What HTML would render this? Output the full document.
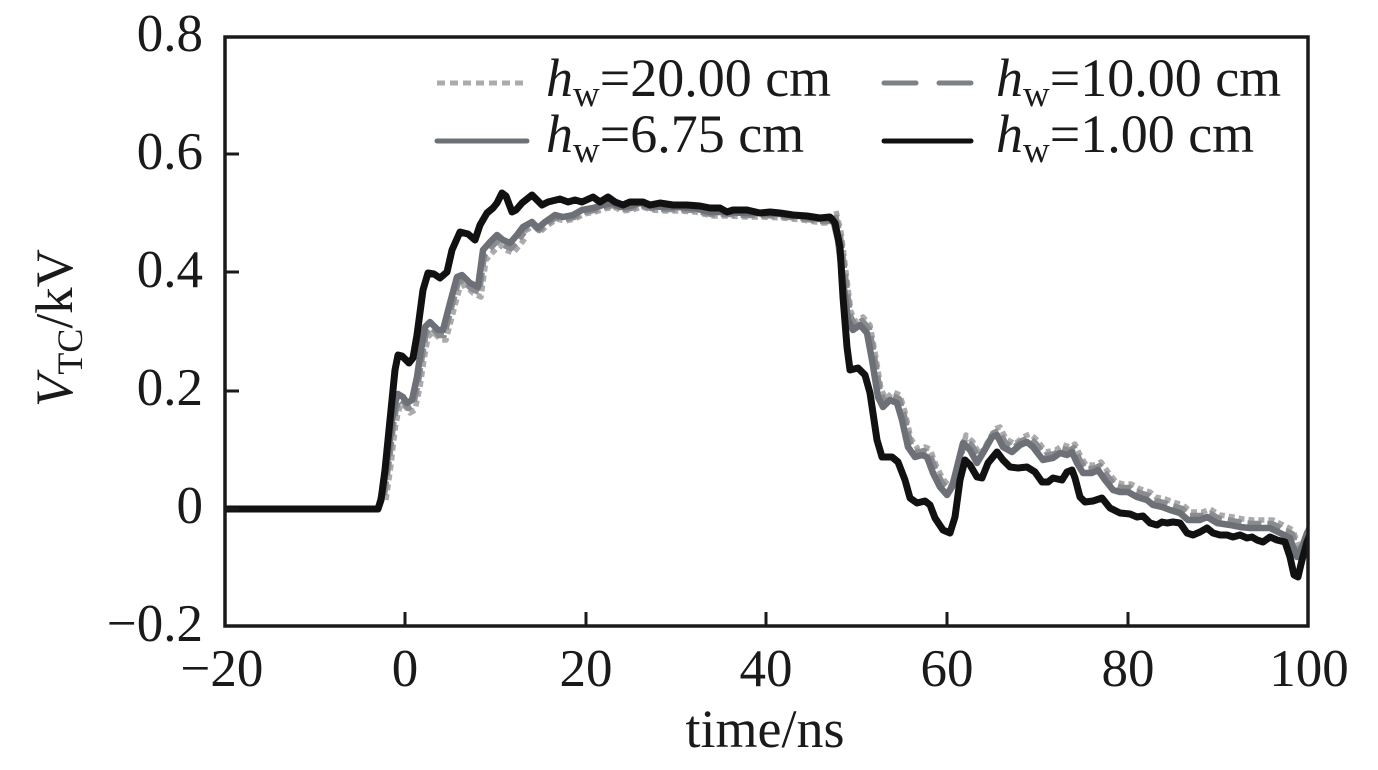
<!DOCTYPE html>
<html>
<head>
<meta charset="utf-8">
<style>
html,body{margin:0;padding:0;background:#fff;}
svg{display:block;}
text{font-family:"Liberation Serif","Times New Roman",serif;fill:#1a1a1a;}
</style>
</head>
<body>
<svg width="1378" height="770" viewBox="0 0 1378 770" xmlns="http://www.w3.org/2000/svg">
<defs>
<clipPath id="pa"><rect x="225" y="37" width="1083" height="589"/></clipPath>
</defs>
<rect x="0" y="0" width="1378" height="770" fill="#fff"/>

<g clip-path="url(#pa)" fill="none" stroke-linejoin="round">
<!-- dotted 20.00 cm -->
<g stroke="#ababab" stroke-width="5.5" stroke-dasharray="6 4">
<path transform="translate(3,10)" d="M383,490 L388,455 L392,420 L395,403 L398,394 L403,397 L407,403 L412,400 L417,377 L421,350 L425,327 L430,322 L438,330 L443,330 L450,303 L457,277 L462,275 L470,283 L478,287 L483,250 L490,242 L497,235 L503,240 L510,243 L517,235 L523,227"/>
<path transform="translate(2,4)" d="M517,235 L523,227 L532,222 L538,228 L545,222 L555,215 L563,217 L573,215 L582,210 L593,208 L603,205 L612,203 L620,207 L630,206 L640,203 L650,206 L663,207 L677,207 L693,208 L710,212 L727,212 L743,213 L760,213 L780,214 L800,216 L820,219 L833,219 L838,240"/>
<path transform="translate(3,-8)" d="M833,219 L838,240 L843,280 L848,320 L853,330 L860,325 L867,333 L872,360 L878,397 L883,407 L890,400 L897,403 L902,420 L908,447 L915,457 L922,455 L927,457 L933,473 L940,487 L947,495 L952,487 L958,463 L963,443 L970,450 L977,463 L983,453 L992,437 L997,435 L1003,447 L1012,452 L1020,445 L1027,442 L1033,447 L1043,460 L1053,458 L1060,453 L1067,455 L1072,452 L1077,463 L1083,473 L1092,473 L1098,470 L1105,480 L1113,490 L1120,492 L1128,492 L1137,497 L1147,500 L1153,505 L1162,507 L1170,510 L1180,513 L1188,520 L1200,520 L1207,517 L1217,523 L1230,525 L1240,527 L1250,528 L1260,528 L1270,528 L1280,533 L1290,538 L1294,550 L1297,557 L1301,550 L1307,533 L1312,525"/>
</g>
<!-- dashed 10.00 cm -->
<g stroke="#8a8c90" stroke-width="6.5" stroke-dasharray="14 6">
<path transform="translate(1,5)" d="M383,490 L388,455 L392,420 L395,403 L398,394 L403,397 L407,403 L412,400 L417,377 L421,350 L425,327 L430,322 L438,330 L443,330 L450,303 L457,277 L462,275 L470,283 L478,287 L483,250 L490,242 L497,235 L503,240 L510,243 L517,235 L523,227"/>
<path transform="translate(1,2)" d="M517,235 L523,227 L532,222 L538,228 L545,222 L555,215 L563,217 L573,215 L582,210 L593,208 L603,205 L612,203 L620,207 L630,206 L640,203 L650,206 L663,207 L677,207 L693,208 L710,212 L727,212 L743,213 L760,213 L780,214 L800,216 L820,219 L833,219 L838,240"/>
<path transform="translate(2,-4)" d="M833,219 L838,240 L843,280 L848,320 L853,330 L860,325 L867,333 L872,360 L878,397 L883,407 L890,400 L897,403 L902,420 L908,447 L915,457 L922,455 L927,457 L933,473 L940,487 L947,495 L952,487 L958,463 L963,443 L970,450 L977,463 L983,453 L992,437 L997,435 L1003,447 L1012,452 L1020,445 L1027,442 L1033,447 L1043,460 L1053,458 L1060,453 L1067,455 L1072,452 L1077,463 L1083,473 L1092,473 L1098,470 L1105,480 L1113,490 L1120,492 L1128,492 L1137,497 L1147,500 L1153,505 L1162,507 L1170,510 L1180,513 L1188,520 L1200,520 L1207,517 L1217,523 L1230,525 L1240,527 L1250,528 L1260,528 L1270,528 L1280,533 L1290,538 L1294,550 L1297,557 L1301,550 L1307,533 L1312,525"/>
</g>
<!-- solid gray 6.75 cm -->
<path stroke="#6d7077" stroke-width="6.5" d="M225,509 L378,509 L383,490 L388,455 L392,420 L395,403 L398,394 L403,397 L407,403 L412,400 L417,377 L421,350 L425,327 L430,322 L438,330 L443,330 L450,303 L457,277 L462,275 L470,283 L478,287 L483,250 L490,242 L497,235 L503,240 L510,243 L517,235 L523,227 L532,222 L538,228 L545,222 L555,215 L563,217 L573,215 L582,210 L593,208 L603,205 L612,203 L620,207 L630,206 L640,203 L650,206 L663,207 L677,207 L693,208 L710,212 L727,212 L743,213 L760,213 L780,214 L800,216 L820,219 L833,219 L838,240 L843,280 L848,320 L853,330 L860,325 L867,333 L872,360 L878,397 L883,407 L890,400 L897,403 L902,420 L908,447 L915,457 L922,455 L927,457 L933,473 L940,487 L947,495 L952,487 L958,463 L963,443 L970,450 L977,463 L983,453 L992,437 L997,435 L1003,447 L1012,452 L1020,445 L1027,442 L1033,447 L1043,460 L1053,458 L1060,453 L1067,455 L1072,452 L1077,463 L1083,473 L1092,473 L1098,470 L1105,480 L1113,490 L1120,492 L1128,492 L1137,497 L1147,500 L1153,505 L1162,507 L1170,510 L1180,513 L1188,520 L1200,520 L1207,517 L1217,523 L1230,525 L1240,527 L1250,528 L1260,528 L1270,528 L1280,533 L1290,538 L1294,550 L1297,557 L1301,550 L1307,533 L1312,525"/>
<!-- black 1.00 cm -->
<path stroke="#111" stroke-width="7" d="M225,509 L378,509 L381,500 L385,470 L390,420 L395,370 L398,355 L402,356 L409,363 L413,358 L417,335 L423,290 L428,273 L434,274 L440,278 L447,272 L452,250 L460,232 L468,234 L475,240 L480,225 L487,213 L493,208 L497,203 L502,193 L506,196 L512,212 L516,210 L522,203 L532,195 L537,200 L542,205 L548,202 L560,199 L568,202 L575,200 L582,202 L593,197 L600,202 L608,197 L615,202 L623,205 L630,202 L643,202 L650,205 L660,203 L673,205 L687,205 L700,206 L710,208 L720,208 L727,212 L733,210 L747,210 L760,213 L770,212 L780,213 L793,215 L807,216 L820,218 L830,217 L835,223 L840,247 L843,297 L847,347 L850,370 L858,368 L865,375 L870,393 L877,440 L882,457 L892,457 L898,462 L905,480 L910,498 L917,503 L925,501 L930,505 L935,518 L943,530 L950,533 L955,517 L960,480 L965,460 L970,465 L977,477 L982,478 L988,463 L997,452 L1003,460 L1010,467 L1018,468 L1027,467 L1035,472 L1042,482 L1048,482 L1053,478 L1062,480 L1067,472 L1072,470 L1075,478 L1080,497 L1085,502 L1093,501 L1102,498 L1110,508 L1120,513 L1130,514 L1137,517 L1143,516 L1150,523 L1157,525 L1162,522 L1167,523 L1173,522 L1180,523 L1187,533 L1193,535 L1200,532 L1207,528 L1213,533 L1220,535 L1227,535 L1233,537 L1240,535 L1247,538 L1252,537 L1257,540 L1263,542 L1270,537 L1277,540 L1285,542 L1290,557 L1294,575 L1298,577 L1302,560 L1307,542 L1312,530"/>
</g>

<!-- axes frame -->
<rect x="225" y="37" width="1083" height="589" fill="none" stroke="#1a1a1a" stroke-width="3.5"/>
<!-- ticks -->
<g stroke="#1a1a1a" stroke-width="3">
<line x1="405" y1="626" x2="405" y2="612"/>
<line x1="586" y1="626" x2="586" y2="612"/>
<line x1="766" y1="626" x2="766" y2="612"/>
<line x1="947" y1="626" x2="947" y2="612"/>
<line x1="1128" y1="626" x2="1128" y2="612"/>
<line x1="225" y1="154" x2="239" y2="154"/>
<line x1="225" y1="272" x2="239" y2="272"/>
<line x1="225" y1="391" x2="239" y2="391"/>
<line x1="225" y1="509" x2="239" y2="509"/>
</g>

<!-- y tick labels -->
<g font-size="53" text-anchor="end">
<text x="203" y="51">0.8</text>
<text x="203" y="169">0.6</text>
<text x="203" y="287">0.4</text>
<text x="203" y="405">0.2</text>
<text x="203" y="523">0</text>
<text x="203" y="641">−0.2</text>
</g>
<!-- x tick labels -->
<g font-size="53" text-anchor="middle">
<text x="222" y="686">−20</text>
<text x="405" y="686">0</text>
<text x="586" y="686">20</text>
<text x="766" y="686">40</text>
<text x="947" y="686">60</text>
<text x="1128" y="686">80</text>
<text x="1309" y="686">100</text>
</g>

<!-- axis titles -->
<text x="765" y="747" font-size="54" text-anchor="middle">time/ns</text>
<text transform="translate(72,328) rotate(-90)" font-size="53" text-anchor="middle"><tspan font-style="italic">V</tspan><tspan font-size="36" dy="10">TC</tspan><tspan dy="-10">/kV</tspan></text>

<!-- legend -->
<g fill="none" stroke-width="5">
<line x1="437" y1="83" x2="527" y2="83" stroke="#ababab" stroke-dasharray="8 5"/>
<line x1="437" y1="141" x2="527" y2="141" stroke="#6d7077" stroke-linecap="round"/>
<line x1="884" y1="83" x2="916" y2="83" stroke="#7d8086" stroke-linecap="round"/>
<line x1="939" y1="83" x2="971" y2="83" stroke="#7d8086" stroke-linecap="round"/>
<line x1="884" y1="141" x2="971" y2="141" stroke="#111" stroke-linecap="round"/>
</g>
<g font-size="54">
<text x="546" y="96"><tspan font-style="italic">h</tspan><tspan font-size="37" dy="10">w</tspan><tspan dy="-10">=20.00 cm</tspan></text>
<text x="546" y="152"><tspan font-style="italic">h</tspan><tspan font-size="37" dy="10">w</tspan><tspan dy="-10">=6.75 cm</tspan></text>
<text x="996" y="96"><tspan font-style="italic">h</tspan><tspan font-size="37" dy="10">w</tspan><tspan dy="-10">=10.00 cm</tspan></text>
<text x="996" y="152"><tspan font-style="italic">h</tspan><tspan font-size="37" dy="10">w</tspan><tspan dy="-10">=1.00 cm</tspan></text>
</g>
</svg>
</body>
</html>
